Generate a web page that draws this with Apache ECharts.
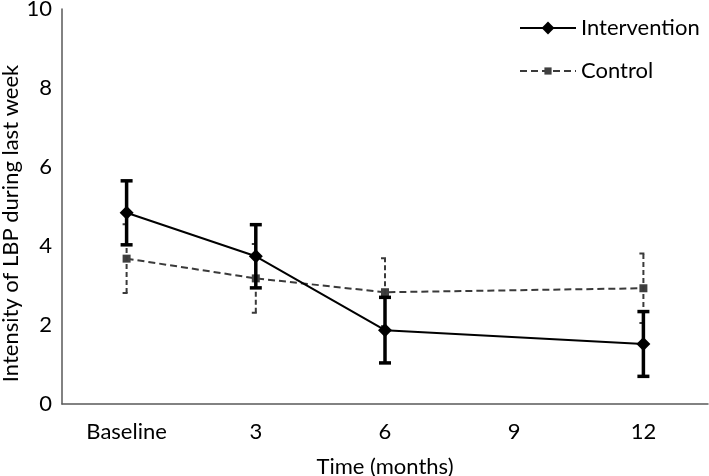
<!DOCTYPE html>
<html>
<head>
<meta charset="utf-8">
<script src="https://cdn.jsdelivr.net/npm/echarts@6/dist/echarts.min.js"></script>
<style>html,body{margin:0;padding:0;background:#fff;}#c{width:709px;height:476px;}</style>
</head>
<body>
<div id="c"></div>
<script>
const categories = ['Baseline', '3', '6', '9', '12'];
const interventionMean = [4.84, 3.74, 1.87, null, 1.52];
const interventionErr = [0.81, 0.80, 0.83, null, 0.82];
const controlMean = [3.68, 3.18, 2.83, null, 2.93];
const controlErr = [0.87, 0.87, 0.86, null, 0.88];
const yMin = 0, yMax = 10, yStep = 2;

function errData(mean, err) {
  const out = [];
  mean.forEach((m, i) => { if (m != null) out.push([i, m - err[i], m + err[i]]); });
  return out;
}
function errRender(halfCap, style) {
  return function (params, api) {
    const x = api.value(0);
    const lo = api.coord([x, api.value(1)]);
    const hi = api.coord([x, api.value(2)]);
    return {
      type: 'group',
      children: [
        { type: 'line', shape: { x1: lo[0], y1: lo[1], x2: hi[0], y2: hi[1] }, style: style },
        { type: 'line', shape: { x1: lo[0] - halfCap, y1: lo[1], x2: lo[0] + halfCap, y2: lo[1] }, style: style },
        { type: 'line', shape: { x1: hi[0] - halfCap, y1: hi[1], x2: hi[0] + halfCap, y2: hi[1] }, style: style }
      ]
    };
  };
}
const FONT = 'Lato';
const FS = 22;
const chart = echarts.init(document.getElementById('c'), null, { renderer: 'canvas' });
chart.setOption({
  animation: false,
  backgroundColor: '#fff',
  textStyle: { fontFamily: FONT },
  grid: { left: 62, right: 1, top: 9, bottom: 72, containLabel: false, outerBoundsMode: 'none' },
  legend: [
    {
      data: ['Intervention'], left: 519, top: 17, orient: 'vertical', padding: 0,
      itemWidth: 56, itemHeight: 16, itemGap: 8,
      textStyle: { fontFamily: FONT, fontSize: FS, color: '#000', lineHeight: 22 }
    },
    {
      data: ['Control'], left: 519, top: 60, orient: 'vertical', padding: 0,
      itemWidth: 56, itemHeight: 9, itemGap: 8,
      textStyle: { fontFamily: FONT, fontSize: FS, color: '#000', lineHeight: 22 }
    }
  ],
  xAxis: {
    type: 'category', data: categories, boundaryGap: true,
    name: 'Time (months)', nameLocation: 'middle', nameGap: 52, nameMoveOverlap: false,
    nameTextStyle: { fontFamily: FONT, fontSize: FS, color: '#000' },
    axisLine: { lineStyle: { color: '#595959', width: 1.5 } },
    axisTick: { alignWithLabel: true, length: 6, lineStyle: { color: '#595959', width: 1.5 } },
    axisLabel: { fontFamily: FONT, fontSize: FS, color: '#000', margin: 17 },
    splitLine: { show: false }
  },
  yAxis: {
    type: 'value', min: yMin, max: yMax, interval: yStep,
    name: 'Intensity of LBP during last week', nameLocation: 'middle', nameGap: 40, nameMoveOverlap: false,
    nameTextStyle: { fontFamily: FONT, fontSize: FS, color: '#000', padding: [0, 34, 0, 0] },
    axisLine: { show: true, lineStyle: { color: '#595959', width: 1.5 } },
    axisTick: { show: false },
    axisLabel: { fontFamily: FONT, fontSize: FS, color: '#000', margin: 10 },
    splitLine: { show: false }
  },
  series: [
    {
      name: 'Control', type: 'line', data: controlMean, connectNulls: true,
      symbol: 'rect', symbolSize: 8, z: 2,
      lineStyle: { color: '#3a3a3a', width: 2, type: [7, 4] },
      itemStyle: { color: '#404040' }
    },
    {
      name: 'ControlErr', type: 'custom', data: errData(controlMean, controlErr), z: 3,
      encode: { x: 0, y: [1, 2] },
      renderItem: errRender(4, { stroke: '#3a3a3a', lineWidth: 2, lineDash: [5, 3], fill: null })
    },
    {
      name: 'InterventionErr', type: 'custom', data: errData(interventionMean, interventionErr), z: 4,
      encode: { x: 0, y: [1, 2] },
      renderItem: errRender(6, { stroke: '#000', lineWidth: 3.5, fill: null })
    },
    {
      name: 'Intervention', type: 'line', data: interventionMean, connectNulls: true,
      symbol: 'diamond', symbolSize: 14, z: 5,
      lineStyle: { color: '#000', width: 2 },
      itemStyle: { color: '#000' }
    }
  ]
});
</script>
</body>
</html>
